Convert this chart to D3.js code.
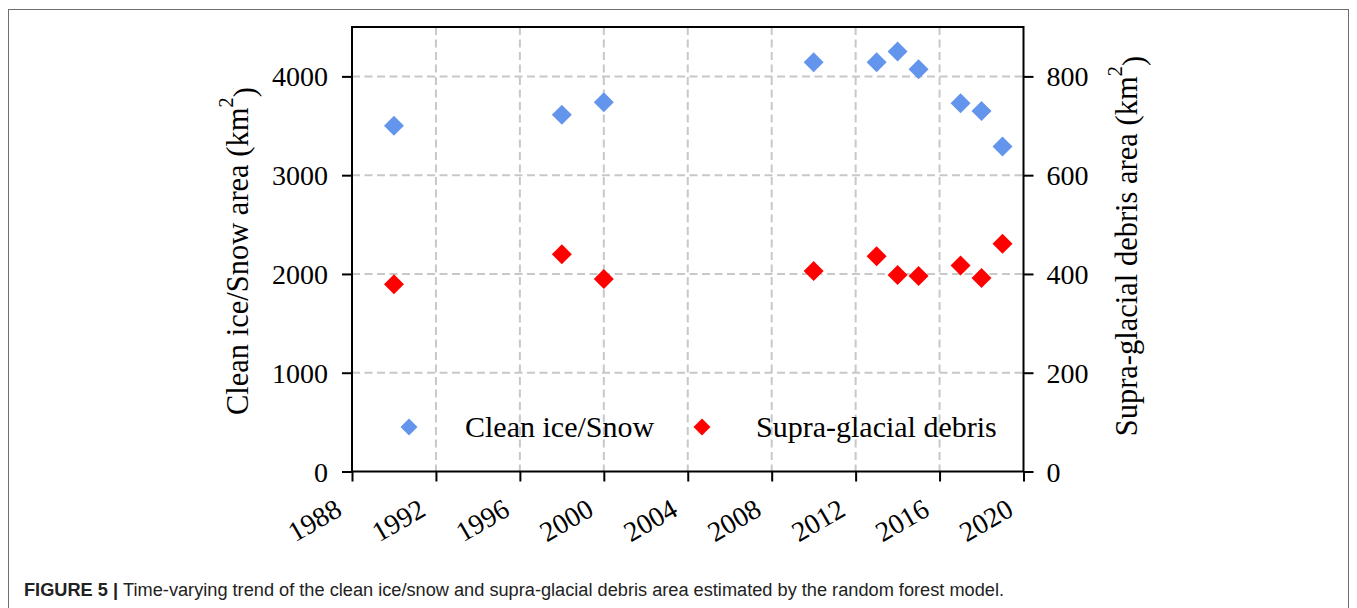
<!DOCTYPE html>
<html>
<head>
<meta charset="utf-8">
<script src="https://cdn.jsdelivr.net/npm/d3@7"></script>
<style>
  html, body { margin: 0; padding: 0; background: #fff; }
  svg { display: block; }
</style>
</head>
<body>
<svg id="chart" width="1357" height="608"></svg>
<script>
// Observation years
const years = [1990, 1998, 2000, 2010, 2013, 2014, 2015, 2017, 2018, 2019];
// Clean ice / snow area (km²), left axis
const cleanIce = [3500, 3612, 3738, 4144, 4144, 4252, 4073, 3728, 3650, 3291];
// Supra-glacial debris area (km²), right axis
const debris = [379, 440, 390, 406, 436, 398, 396, 417, 392, 461];

const xTicks = [1988, 1992, 1996, 2000, 2004, 2008, 2012, 2016, 2020];
const yLeftTicks = [0, 1000, 2000, 3000, 4000];
const yRightTicks = [0, 200, 400, 600, 800];

const seriesNames = ["Clean ice/Snow", "Supra-glacial debris"];
const seriesColors = ["#6495ed", "#ff0000"];

const svg = d3.select("#chart");
const serif = "'Liberation Serif', 'Times New Roman', serif";

const plot = { left: 352, right: 1023.5, top: 27, bottom: 471.5 };

const x = d3.scaleLinear().domain([1988, 2020]).range([plot.left, plot.right]);
const yL = d3.scaleLinear().domain([0, 4500]).range([plot.bottom, plot.top]);
const yR = d3.scaleLinear().domain([0, 900]).range([plot.bottom, plot.top]);

// Figure frame
svg.append("rect")
  .attr("x", 8.5).attr("y", 9.5)
  .attr("width", 1340).attr("height", 640)
  .attr("fill", "none").attr("stroke", "#6e6e6e").attr("stroke-width", 1);

// Grid
const grid = svg.append("g")
  .attr("stroke", "#c8c8c8").attr("stroke-width", 2)
  .attr("stroke-dasharray", "8,4.5");
grid.selectAll("line.v").data(xTicks.slice(1, -1)).join("line")
  .attr("x1", d => x(d)).attr("x2", d => x(d))
  .attr("y1", plot.top).attr("y2", plot.bottom);
grid.selectAll("line.h").data(yLeftTicks.slice(1)).join("line")
  .attr("y1", d => yL(d)).attr("y2", d => yL(d))
  .attr("x1", plot.left).attr("x2", plot.right);

// Axes
const tickFont = 28;
function styleAxis(g) {
  g.select(".domain").remove();
  g.selectAll(".tick line").attr("stroke", "#000").attr("stroke-width", 2);
  g.selectAll(".tick text").attr("fill", "#000")
    .attr("font-family", serif).attr("font-size", tickFont);
}

const gx = svg.append("g").attr("transform", `translate(0,${plot.bottom})`)
  .call(d3.axisBottom(x).tickValues(xTicks).tickFormat(d3.format("d"))
    .tickSizeOuter(0).tickSizeInner(10).tickPadding(0));
styleAxis(gx);
gx.selectAll(".tick text")
  .attr("text-anchor", "end")
  .attr("dy", null).attr("y", null)
  .attr("transform", "translate(-9,43) rotate(-30)");

const gl = svg.append("g").attr("transform", `translate(${plot.left},0)`)
  .call(d3.axisLeft(yL).tickValues(yLeftTicks).tickFormat(d3.format("d"))
    .tickSizeOuter(0).tickSizeInner(10).tickPadding(14));
styleAxis(gl);
gl.selectAll(".tick text").attr("dy", "0.34em");

const gr = svg.append("g").attr("transform", `translate(${plot.right},0)`)
  .call(d3.axisRight(yR).tickValues(yRightTicks).tickFormat(d3.format("d"))
    .tickSizeOuter(0).tickSizeInner(10).tickPadding(13));
styleAxis(gr);
gr.selectAll(".tick text").attr("dy", "0.34em");

// Plot frame (spines)
svg.append("rect")
  .attr("x", plot.left).attr("y", plot.top)
  .attr("width", plot.right - plot.left).attr("height", plot.bottom - plot.top)
  .attr("fill", "none").attr("stroke", "#000").attr("stroke-width", 2);

// Diamond markers: a square rotated by 45 degrees
const diamond = size => d3.symbol().type(d3.symbolSquare).size(size);

svg.append("g").selectAll("path").data(years).join("path")
  .attr("d", diamond(200))
  .attr("transform", (d, i) => `translate(${x(d)},${yL(cleanIce[i])}) rotate(45)`)
  .attr("fill", seriesColors[0]);

svg.append("g").selectAll("path").data(years).join("path")
  .attr("d", diamond(200))
  .attr("transform", (d, i) => `translate(${x(d)},${yR(debris[i])}) rotate(45)`)
  .attr("fill", seriesColors[1]);

// Legend
const legendY = 427;
const legendItems = [
  { name: seriesNames[0], color: seriesColors[0], mx: 409, tx: 465 },
  { name: seriesNames[1], color: seriesColors[1], mx: 702, tx: 756 }
];
const lg = svg.append("g");
legendItems.forEach(it => {
  lg.append("path").attr("d", diamond(145))
    .attr("transform", `translate(${it.mx},${legendY}) rotate(45)`)
    .attr("fill", it.color);
  lg.append("text").attr("x", it.tx).attr("y", legendY).attr("dy", "0.34em")
    .attr("font-family", serif).attr("font-size", 30).attr("fill", "#000")
    .text(it.name);
});

// Axis titles
function axisTitle(tx, ty, label) {
  const t = svg.append("text")
    .attr("transform", `translate(${tx},${ty}) rotate(-90)`)
    .attr("text-anchor", "middle")
    .attr("font-family", serif).attr("font-size", 30.5).attr("fill", "#000");
  t.append("tspan").text(label + " (km");
  t.append("tspan").attr("font-size", 21).attr("dy", "-0.7em").text("2");
  t.append("tspan").attr("dy", "0.7em").text(")");
}
axisTitle(248, 251, "Clean ice/Snow area");
axisTitle(1137, 246, "Supra-glacial debris area");

// Caption
const cap = svg.append("text")
  .attr("x", 24).attr("y", 596)
  .attr("font-family", "'Liberation Sans', Arial, sans-serif")
  .attr("font-size", 18).attr("fill", "#222")
  .attr("textLength", 980).attr("lengthAdjust", "spacingAndGlyphs");
cap.append("tspan").attr("font-weight", "bold").text("FIGURE 5 | ");
cap.append("tspan").text("Time-varying trend of the clean ice/snow and supra-glacial debris area estimated by the random forest model.");
</script>
</body>
</html>
